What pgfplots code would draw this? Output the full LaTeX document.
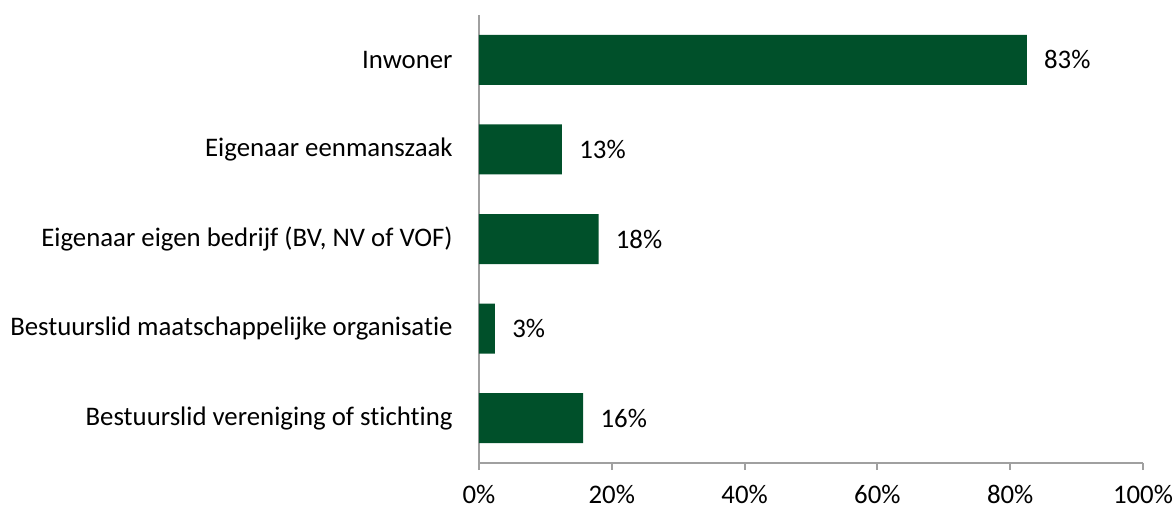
\documentclass[border=0pt]{standalone}
\usepackage{fontspec}
\setmainfont{Carlito}[RawFeature={-liga}]
\usepackage{pgfplots}
\pgfplotsset{compat=1.18}
\usetikzlibrary{calc}
\definecolor{bargreen}{RGB}{0,80,42}
\definecolor{axgray}{RGB}{160,160,160}
\newcommand{\lblfont}{\fontsize{13.4pt}{16pt}\selectfont}
\begin{document}
\lblfont
\begin{tikzpicture}[x=1pt,y=1pt]
\begin{axis}[
  name=ax,
  scale only axis,
  width=332pt, height=224pt,
  xbar, bar width=25pt,
  xmin=0, xmax=100,
  ymin=-0.5, ymax=4.5,
  xtick={0,20,40,60,80,100},
  xticklabels={0\%,20\%,40\%,60\%,80\%,100\%},
  ytick={0,1,2,3,4},
  yticklabels={Bestuurslid vereniging of stichting,Bestuurslid maatschappelijke organisatie,Eigenaar eigen bedrijf (BV{,} NV of VOF),Eigenaar eenmanszaak,Inwoner},
  axis x line*=bottom,
  axis y line*=left,
  axis line style={axgray, line width=1pt, -},
  tick align=outside,
  major tick length=3.5pt,
  xtick style={axgray, line width=1pt},
  ytick style={draw=none},
  yticklabel style={font=\lblfont, inner sep=0pt, xshift=-9.5pt},
  xticklabel style={font=\lblfont, inner sep=0pt, yshift=-7.5pt},
  nodes near coords,
  point meta=explicit symbolic,
  every node near coord/.append style={font=\lblfont, black, anchor=west, xshift=4pt},
]
\addplot[fill=bargreen, draw=none] coordinates {
  (82.5,4) [83\%]
  (12.5,3) [13\%]
  (18.0,2) [18\%]
  (2.4,1) [3\%]
  (15.7,0) [16\%]
};
\end{axis}
\pgfresetboundingbox
\path ($(ax.south west)+(-239.5pt,-23.5pt)$) rectangle ($(ax.north east)+(16.5pt,7.5pt)$);
\end{tikzpicture}
\end{document}
